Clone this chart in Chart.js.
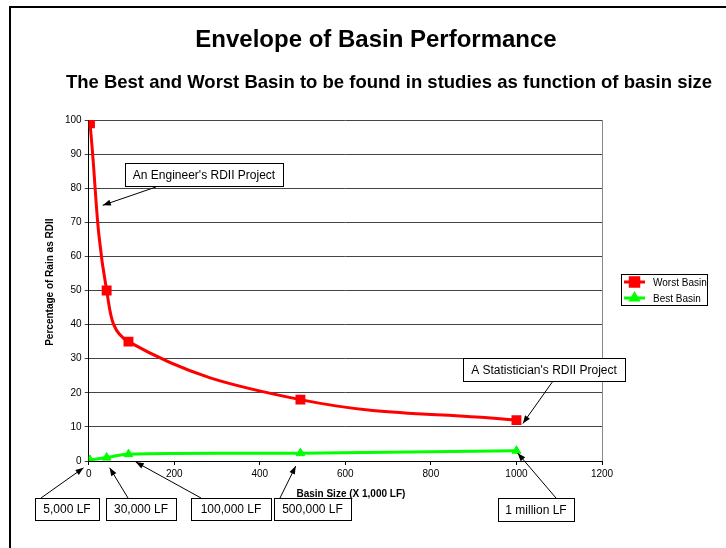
<!DOCTYPE html>
<html>
<head>
<meta charset="utf-8">
<title>Envelope of Basin Performance</title>
<script src="https://cdn.jsdelivr.net/npm/chart.js@4.4.0/dist/chart.umd.min.js"></script>
<style>
  body { margin: 0; background: #fff; }
  #wrap { position: relative; width: 726px; height: 548px; }
</style>
</head>
<body>
<div id="wrap"><canvas id="basinChart" width="726" height="548"></canvas></div>
<script>
// basin size in thousands of LF
const basinSizes = [3, 42, 93, 495, 1000];
const worstBasin = [99, 50, 35, 18, 12];
const bestBasin = [0.3, 1, 2, 2.3, 3];
const seriesNames = ['Worst Basin', 'Best Basin'];

const chartTitle = 'Envelope of Basin Performance';
const chartSubtitle = 'The Best and Worst Basin to be found in studies as function of basin size';

const FONT = 'Arial, "Liberation Sans", sans-serif';

// callout boxes: box in pixels, arrow tip in data units
const notes = [
    { text: "An Engineer's RDII Project", box: [125, 163, 158, 23], from: [156, 187], tip: [33, 75] },
    { text: "A Statistician's RDII Project", box: [463, 358, 162, 23], from: [553, 381], tip: [1015, 11] },
    { text: '1 million LF', box: [498, 498, 76, 23], from: [556, 498], tip: [1003, 2.3] },
    { text: '5,000 LF', box: [35, 498, 64, 22], from: [41, 498], tip: [-12, -2] },
    { text: '30,000 LF', box: [106, 498, 70, 22], from: [128, 498], tip: [49, -2] },
    { text: '100,000 LF', box: [191, 498, 80, 22], from: [201, 498], tip: [110, -0.3] },
    { text: '500,000 LF', box: [274, 498, 77, 22], from: [280, 498], tip: [484, -1.5] }
];

function toPoints(values) {
    return basinSizes.map((s, i) => ({ x: s, y: values[i] }));
}

function arrow(ctx, x1, y1, x2, y2) {
    const a = Math.atan2(y2 - y1, x2 - x1);
    ctx.beginPath();
    ctx.moveTo(x1, y1);
    ctx.lineTo(x2, y2);
    ctx.stroke();
    ctx.beginPath();
    ctx.moveTo(x2, y2);
    ctx.lineTo(x2 - 8 * Math.cos(a) + 3 * Math.sin(a), y2 - 8 * Math.sin(a) - 3 * Math.cos(a));
    ctx.lineTo(x2 - 8 * Math.cos(a) - 3 * Math.sin(a), y2 - 8 * Math.sin(a) + 3 * Math.cos(a));
    ctx.closePath();
    ctx.fill();
}

const framePlugin = {
    id: 'frame',
    beforeDraw(chart) {
        const ctx = chart.ctx;
        ctx.save();
        ctx.fillStyle = '#fff';
        ctx.fillRect(0, 0, chart.width, chart.height);
        ctx.fillStyle = '#000';
        ctx.fillRect(9, 6, chart.width - 9, 2);
        ctx.fillRect(9, 6, 2, chart.height - 6);
        // titles
        ctx.textAlign = 'center';
        ctx.textBaseline = 'middle';
        ctx.font = 'bold 24px ' + FONT;
        ctx.fillText(chartTitle, 376, 40);
        ctx.font = 'bold 18.5px ' + FONT;
        ctx.fillText(chartSubtitle, 389, 83);
        ctx.restore();
    },
    beforeDatasetsDraw(chart) {
        const { ctx, chartArea } = chart;
        ctx.save();
        ctx.strokeStyle = '#888';
        ctx.lineWidth = 1;
        ctx.beginPath();
        ctx.moveTo(Math.round(chartArea.right) + 0.5, chartArea.top);
        ctx.lineTo(Math.round(chartArea.right) + 0.5, chartArea.bottom);
        ctx.stroke();
        ctx.restore();
    }
};

const notesPlugin = {
    id: 'notes',
    afterDraw(chart) {
        const { ctx, scales } = chart;
        ctx.save();
        ctx.lineWidth = 1;
        ctx.strokeStyle = '#000';
        ctx.fillStyle = '#000';
        notes.forEach(n => {
            const tx = scales.x.getPixelForValue(n.tip[0]);
            const ty = scales.y.getPixelForValue(n.tip[1]);
            arrow(ctx, n.from[0], n.from[1], tx, ty);
        });
        ctx.font = '12px ' + FONT;
        ctx.textAlign = 'center';
        ctx.textBaseline = 'middle';
        notes.forEach(n => {
            const [bx, by, bw, bh] = n.box;
            ctx.fillStyle = '#fff';
            ctx.fillRect(bx, by, bw, bh);
            ctx.strokeRect(bx + 0.5, by + 0.5, bw, bh);
            ctx.fillStyle = '#000';
            ctx.fillText(n.text, bx + bw / 2, by + bh / 2 + 1);
        });

        // legend box on the right
        ctx.strokeRect(621.5, 274.5, 86, 31);
        ctx.font = '10px ' + FONT;
        ctx.textAlign = 'left';
        chart.data.datasets.forEach((ds, i) => {
            const ly = 282 + i * 16;
            ctx.strokeStyle = ds.borderColor;
            ctx.lineWidth = 3;
            ctx.beginPath();
            ctx.moveTo(624, ly);
            ctx.lineTo(645, ly);
            ctx.stroke();
            Chart.helpers.drawPoint(ctx, {
                pointStyle: ds.pointStyle, radius: ds.pointRadius - 1, borderWidth: 1
            }, 634.5, ly);
            ctx.fillStyle = ds.borderColor;
            ctx.fill();
            ctx.fillStyle = '#000';
            ctx.fillText(ds.label, 653, ly + 1);
        });
        ctx.restore();
    }
};

const ctx = document.getElementById('basinChart').getContext('2d');
const basinChart = new Chart(ctx, {
    type: 'line',
    data: {
        datasets: [
            {
                label: seriesNames[0],
                data: toPoints(worstBasin),
                borderColor: '#ff0000',
                backgroundColor: '#ff0000',
                pointStyle: 'rect',
                pointRadius: 7,
                pointBorderWidth: 0,
                borderWidth: 3,
                tension: 0.4
            },
            {
                label: seriesNames[1],
                data: toPoints(bestBasin),
                borderColor: '#00ff00',
                backgroundColor: '#00ff00',
                pointStyle: 'triangle',
                pointRadius: 5,
                pointBorderWidth: 1,
                borderWidth: 3,
                tension: 0.4
            }
        ]
    },
    options: {
        responsive: false,
        animation: false,
        layout: { padding: { left: 44, right: 124, top: 120, bottom: 48 } },
        plugins: {
            legend: { display: false },
            tooltip: { enabled: false }
        },
        scales: {
            x: {
                type: 'linear',
                min: 0,
                max: 1200,
                ticks: {
                    stepSize: 200, color: '#000', font: { family: FONT, size: 10 }, padding: 3,
                    callback: v => String(v)
                },
                grid: { drawOnChartArea: false, drawTicks: true, tickLength: 4, color: '#000' },
                border: { color: '#000', width: 1 },
                title: {
                    display: true,
                    text: '    Basin Size (X 1,000 LF)',
                    color: '#000',
                    font: { family: FONT, size: 10, weight: 'bold' },
                    padding: { top: 5, bottom: 0 }
                }
            },
            y: {
                min: 0,
                max: 100,
                ticks: { stepSize: 10, color: '#000', font: { family: FONT, size: 10 }, padding: 3 },
                grid: { color: '#444', tickLength: 4 },
                border: { color: '#000', width: 1 },
                title: {
                    display: true,
                    text: '      Percentage of Rain as RDII',
                    color: '#000',
                    font: { family: FONT, size: 10, weight: 'bold' },
                    padding: { top: 0, bottom: 6 }
                }
            }
        }
    },
    plugins: [framePlugin, notesPlugin]
});
</script>
</body>
</html>
